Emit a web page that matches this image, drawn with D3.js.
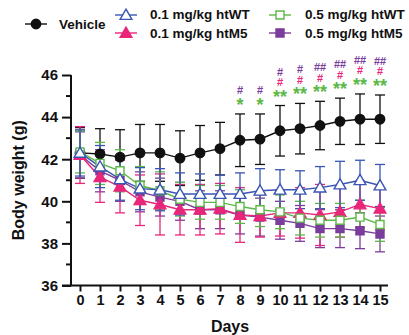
<!DOCTYPE html>
<html>
<head>
<meta charset="utf-8">
<script src="https://cdn.jsdelivr.net/npm/d3@7"></script>
<style>
  body { margin: 0; background: #fff; }
  svg text { font-family: "Liberation Sans", Arial, sans-serif; font-weight: bold; }
</style>
</head>
<body>
<svg width="409" height="335"></svg>
<script>
const days = d3.range(0, 16);
const yTicks = [36, 38, 40, 42, 44, 46];

// mean body weight (g) per day
const vehicle = [42.3, 42.25, 42.1, 42.3, 42.3, 42.05, 42.3, 42.5, 42.9, 42.95, 43.35, 43.45, 43.6, 43.8, 43.9, 43.9];
const wt01 = [42.3, 41.65, 41.05, 40.6, 40.55, 40.35, 40.35, 40.35, 40.35, 40.5, 40.55, 40.55, 40.65, 40.8, 41.0, 40.75];
const m501 = [42.2, 41.15, 40.7, 40.05, 39.85, 39.6, 39.6, 39.65, 39.35, 39.3, 39.45, 39.45, 39.35, 39.5, 39.85, 39.65];
const wt05 = [42.35, 41.8, 41.45, 40.75, 40.5, 40.1, 39.95, 39.95, 39.75, 39.6, 39.5, 39.2, 39.1, 39.1, 39.25, 38.9];
const m505 = [42.2, 41.45, 41.0, 40.45, 40.2, 40.0, 39.6, 39.6, 39.35, 39.25, 39.1, 38.95, 38.7, 38.7, 38.6, 38.45];

// error bar half widths
const vehicleErr = [1.2, 1.2, 1.3, 1.35, 1.35, 1.3, 1.3, 1.25, 1.25, 1.2, 1.2, 1.2, 1.15, 1.1, 1.2, 1.15];
const wt01Err = [1.1, 1.0, 1.0, 1.0, 1.0, 1.0, 0.95, 0.9, 1.0, 1.05, 0.95, 0.9, 1.0, 1.1, 0.95, 1.0];
const m501Err = [1.35, 1.2, 1.25, 1.2, 1.45, 1.2, 1.2, 1.2, 1.3, 1.0, 1.1, 1.2, 1.45, 1.2, 1.1, 1.0];
const wt05Err = [1.0, 1.0, 1.0, 0.9, 0.9, 0.8, 0.8, 0.8, 0.8, 0.8, 0.8, 0.8, 0.8, 0.8, 0.8, 0.8];
const m505Err = [1.1, 1.0, 1.0, 0.95, 0.9, 0.9, 0.9, 0.9, 0.9, 0.9, 0.9, 0.85, 0.9, 0.9, 0.85, 0.85];

// significance marks per day (vs vehicle)
const sigWt05 = ["", "", "", "", "", "", "", "", "*", "*", "**", "**", "**", "**", "**", "**"];
const sigM501 = ["", "", "", "", "", "", "", "", "", "", "#", "#", "#", "#", "#", "#"];
const sigM505 = ["", "", "", "", "", "", "", "", "#", "#", "#", "#", "##", "##", "##", "##"];

const black = "#111", blue = "#3a55b3", pink = "#e8267a", green = "#5cb848", purple = "#7a3d9b";

const series = [
  { name: "Vehicle", values: vehicle, err: vehicleErr, color: black, shape: "circle", fill: black },
  { name: "0.5 mg/kg htM5", values: m505, err: m505Err, color: purple, shape: "square", fill: purple },
  { name: "0.1 mg/kg htM5", values: m501, err: m501Err, color: pink, shape: "triangle", fill: pink },
  { name: "0.5 mg/kg htWT", values: wt05, err: wt05Err, color: green, shape: "square", fill: "#fff" },
  { name: "0.1 mg/kg htWT", values: wt01, err: wt01Err, color: blue, shape: "triangle", fill: "#fff" }
];

const svg = d3.select("svg");
const x = d3.scaleLinear().domain([-0.45, 15.4]).range([71, 388]);
const y = d3.scaleLinear().domain([36, 46]).range([285.5, 75]);

function symbolPath(shape) {
  if (shape == "circle") return d3.symbol().type(d3.symbolCircle).size(70)();
  if (shape == "square") return d3.symbol().type(d3.symbolSquare).size(64)();
  return d3.symbol().type(d3.symbolTriangle).size(60)();
}

// axes
const yAxis = d3.axisLeft(y).tickValues(yTicks).tickSize(9).tickPadding(4).tickFormat(d3.format("d"));
const yg = svg.append("g").attr("transform", "translate(71,0)").call(yAxis);
yg.selectAll(".tick text").style("font-size", "15px").attr("fill", "#111");
yg.selectAll("line, path").attr("stroke", "#111").attr("stroke-width", 2);
yg.select(".domain").attr("d", "M0," + y(46) + "V" + y(36));
yg.selectAll(".minor").data([37, 39, 41, 43, 45]).enter().append("line")
  .attr("x1", -5).attr("x2", 0)
  .attr("y1", d => y(d)).attr("y2", d => y(d))
  .attr("stroke", "#111").attr("stroke-width", 2);

const xAxis = d3.axisBottom(x).tickValues(days).tickSize(6).tickPadding(3).tickFormat(d3.format("d"));
const xg = svg.append("g").attr("transform", "translate(0," + y(36) + ")").call(xAxis);
xg.selectAll(".tick text").style("font-size", "14.5px").attr("fill", "#111");
xg.selectAll("line, path").attr("stroke", "#111").attr("stroke-width", 2);
xg.select(".domain").attr("d", "M62,0H388");

svg.append("text").attr("x", x(7.5)).attr("y", 332).attr("text-anchor", "middle")
  .style("font-size", "16px").attr("fill", "#111").text("Days");
svg.append("text").attr("transform", "translate(24," + y(41) + ") rotate(-90)")
  .attr("text-anchor", "middle").style("font-size", "16px").attr("fill", "#111").text("Body weight (g)");

// error bars
series.forEach(s => {
  const g = svg.append("g").attr("stroke", s.color).attr("stroke-width", 1.3).attr("fill", "none");
  days.forEach(i => {
    const top = y(s.values[i] + s.err[i]), bot = y(s.values[i] - s.err[i]), cx = x(i);
    g.append("line").attr("x1", cx).attr("x2", cx).attr("y1", top).attr("y2", bot);
    g.append("line").attr("x1", cx - 5).attr("x2", cx + 5).attr("y1", top).attr("y2", top);
    g.append("line").attr("x1", cx - 5).attr("x2", cx + 5).attr("y1", bot).attr("y2", bot);
  });
});

// lines and markers
const line = d3.line().x((d, i) => x(i)).y(d => y(d));
series.forEach(s => {
  svg.append("path").datum(s.values).attr("d", line)
    .attr("fill", "none").attr("stroke", s.color).attr("stroke-width", 1.4);
});
series.forEach(s => {
  svg.append("g").selectAll("path").data(s.values).enter().append("path")
    .attr("d", symbolPath(s.shape))
    .attr("transform", (d, i) => "translate(" + x(i) + "," + (y(d) + (s.shape == "triangle" ? 1 : 0)) + ")")
    .attr("fill", s.fill).attr("stroke", s.color).attr("stroke-width", 1.4);
});

// significance marks above vehicle error bars
days.forEach(i => {
  const cap = y(vehicle[i] + vehicleErr[i]);
  let level = cap;
  if (sigWt05[i]) {
    svg.append("text").attr("x", x(i)).attr("y", cap - 3).attr("text-anchor", "middle")
      .style("font-size", "18px").attr("fill", green).text(sigWt05[i]);
    level = cap - 13;
  }
  if (sigM501[i]) {
    level -= 10.5;
    svg.append("text").attr("x", x(i)).attr("y", level + 4).attr("text-anchor", "middle")
      .style("font-size", "11px").attr("fill", pink).text(sigM501[i]);
  }
  if (sigM505[i]) {
    level -= 10.5;
    svg.append("text").attr("x", x(i)).attr("y", level + 4).attr("text-anchor", "middle")
      .style("font-size", "11px").attr("fill", purple).text(sigM505[i]);
  }
});

// legend
const legend = [
  { s: series[0], x: 25, y: 24, tx: 59, ty: 29 },
  { s: series[4], x: 115, y: 15, tx: 150, ty: 19 },
  { s: series[2], x: 115, y: 33, tx: 150, ty: 38 },
  { s: series[3], x: 269, y: 15, tx: 305, ty: 19 },
  { s: series[1], x: 269, y: 33, tx: 305, ty: 38 }
];
legend.forEach(l => {
  svg.append("line").attr("x1", l.x).attr("x2", l.x + 22).attr("y1", l.y).attr("y2", l.y)
    .attr("stroke", l.s.color).attr("stroke-width", 1.4);
  svg.append("path").attr("d", symbolPath(l.s.shape))
    .attr("transform", "translate(" + (l.x + 11) + "," + (l.y + (l.s.shape == "triangle" ? 1 : 0)) + ")")
    .attr("fill", l.s.fill).attr("stroke", l.s.color).attr("stroke-width", 1.4);
  svg.append("text").attr("x", l.tx).attr("y", l.ty).style("font-size", "13.5px")
    .attr("fill", "#111").text(l.s.name);
});
</script>
</body>
</html>
